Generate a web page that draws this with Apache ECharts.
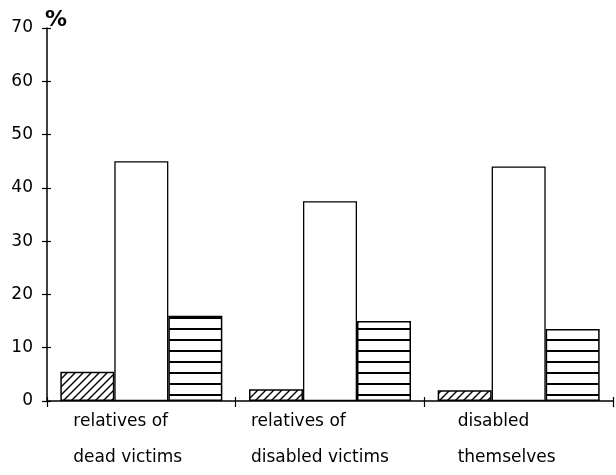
<!DOCTYPE html>
<html>
<head>
<meta charset="utf-8">
<script src="https://cdn.jsdelivr.net/npm/echarts@6/dist/echarts.min.js"></script>
<style>
html,body{margin:0;padding:0;background:#fff;}
#chart{width:616px;height:475px;}
</style>
</head>
<body>
<div id="chart"></div>
<script>
var categories = ['relatives of\ndead victims', 'relatives of\ndisabled victims', 'disabled\nthemselves'];
var hatchedValues = [5.5, 2.2, 2];
var whiteValues = [45, 37.5, 44];
var stripedValues = [16, 15, 13.5];
var yMin = 0, yMax = 70, yStep = 10;
var yUnit = '%';

function hatchPattern() {
  var c = document.createElement('canvas');
  c.width = 8; c.height = 8;
  var g = c.getContext('2d');
  g.fillStyle = '#fff'; g.fillRect(0, 0, 8, 8);
  g.strokeStyle = '#000'; g.lineWidth = 1.4;
  g.beginPath();
  g.moveTo(-2, 10); g.lineTo(10, -2);
  g.moveTo(-6, 6); g.lineTo(6, -6);
  g.moveTo(2, 14); g.lineTo(14, 2);
  g.stroke();
  return c;
}
function stripePattern() {
  var c = document.createElement('canvas');
  c.width = 8; c.height = 11;
  var g = c.getContext('2d');
  g.fillStyle = '#fff'; g.fillRect(0, 0, 8, 11);
  g.fillStyle = '#000'; g.fillRect(0, 9, 8, 2);
  return c;
}

var labelWidths = [136, 158, 122];
var rich = {};
var xData = categories.map(function (c, i) {
  rich['g' + i] = {width: labelWidths[i], align: 'left', fontSize: 17, lineHeight: 36, fontFamily: 'DejaVu Sans', color: '#000'};
  return c;
});

var chart = echarts.init(document.getElementById('chart'), null, {renderer: 'canvas'});
var barBase = {type: 'bar', barWidth: 54, barGap: '0%', barCategoryGap: '14%'};
chart.setOption({
  animation: false,
  backgroundColor: '#fff',
  grid: {left: 47, right: 3, top: 28, bottom: 74},
  xAxis: [{
    type: 'category',
    data: xData,
    axisLine: {lineStyle: {color: '#000', width: 1.5}},
    axisTick: {show: true, length: 6, lineStyle: {color: '#000', width: 1.2}},
    axisLabel: {
      margin: 3,
      interval: 0,
      formatter: function (v, i) {
        return v.split('\n').map(function (l) { return '{g' + i + '|' + l + '}'; }).join('\n');
      },
      rich: rich
    }
  }, {
    type: 'category',
    data: xData,
    position: 'bottom',
    axisLine: {show: false},
    axisTick: {show: true, inside: true, length: 4, lineStyle: {color: '#000', width: 1.2}},
    axisLabel: {show: false}
  }],
  yAxis: [{
    type: 'value',
    min: yMin, max: yMax, interval: yStep,
    name: yUnit,
    nameLocation: 'end',
    nameGap: -3,
    nameTextStyle: {fontSize: 22, fontWeight: 'bold', fontFamily: 'DejaVu Sans', color: '#000', align: 'left', padding: [0, 0, 0, -2]},
    axisLine: {show: true, lineStyle: {color: '#000', width: 1.5}},
    axisTick: {show: true, length: 5, lineStyle: {color: '#000', width: 1.2}},
    axisLabel: {fontSize: 17, fontFamily: 'DejaVu Sans', color: '#000', margin: 14},
    splitLine: {show: false}
  }, {
    type: 'value',
    min: yMin, max: yMax, interval: yStep,
    position: 'left',
    axisLine: {show: false},
    axisTick: {show: true, inside: true, length: 4, lineStyle: {color: '#000', width: 1.2}},
    axisLabel: {show: false},
    splitLine: {show: false}
  }],
  series: [
    Object.assign({}, barBase, {name: 'a', data: hatchedValues,
      itemStyle: {color: {image: hatchPattern(), repeat: 'repeat'}, borderColor: '#000', borderWidth: 1.5}}),
    Object.assign({}, barBase, {name: 'b', data: whiteValues,
      itemStyle: {color: '#fff', borderColor: '#000', borderWidth: 1.3}}),
    Object.assign({}, barBase, {name: 'c', data: stripedValues,
      itemStyle: {color: {image: stripePattern(), repeat: 'repeat'}, borderColor: '#000', borderWidth: 1.5}})
  ]
});
</script>
</body>
</html>
